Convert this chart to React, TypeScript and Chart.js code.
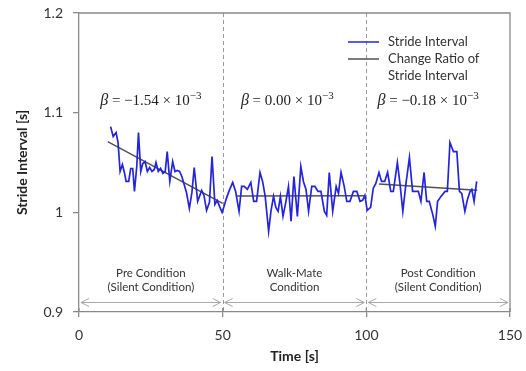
import React, { useEffect, useRef } from "react";
import { Chart, registerables } from "chart.js";

Chart.register(...registerables);

// ---- Data ----
const strideTime = [
  11.0, 11.9, 12.9, 13.6, 14.3, 15.1, 15.8, 16.4, 17.3, 18.0, 18.7, 19.3, 20.1, 20.7, 21.5, 22.2, 23.0, 23.8,
  24.6, 25.4, 26.2, 26.8, 27.6, 28.4, 29.2, 30.0, 30.7, 31.6, 32.6, 33.4, 34.2, 35.0, 35.8, 36.6, 37.4, 38.4,
  39.3, 40.1, 41.3, 42.7, 43.5, 44.4, 45.4, 46.3, 47.3, 48.1, 48.9, 49.8,
  50.5, 51.3, 52.3, 53.5, 54.5, 55.7, 56.6, 57.5, 58.6, 59.8, 60.8, 61.8, 63.0, 63.9, 64.8, 66.0, 66.8, 67.7,
  68.5, 69.3, 70.1, 71.0, 71.9, 72.9, 73.8, 74.8, 76.0, 77.2, 78.1, 79.0, 79.9, 81.0, 82.1, 83.2, 84.2, 85.4,
  86.2, 87.1, 88.3, 89.5, 90.3, 91.2, 92.3, 93.2, 94.3, 95.5, 96.7, 97.8, 98.7, 99.5,
  100.3, 101.5, 102.4, 103.3, 104.4, 105.3, 106.4, 107.4, 108.5, 109.4, 110.8, 111.7, 112.7, 113.8, 115.0,
  116.1, 117.3, 118.1, 119.0, 120.1, 121.0, 121.9, 123.1, 124.0, 124.8, 126.0, 127.4, 128.2, 129.1, 130.3,
  131.5, 132.4, 133.2, 134.3, 135.2, 136.1, 136.7, 137.5, 138.4,
];
const strideValue = [
  1.086, 1.076, 1.080, 1.070, 1.041, 1.048, 1.040, 1.031, 1.031, 1.044, 1.044, 1.021, 1.046, 1.080, 1.041, 1.049, 1.051, 1.041,
  1.045, 1.041, 1.043, 1.050, 1.041, 1.044, 1.039, 1.041, 1.061, 1.031, 1.051, 1.041, 1.042, 1.041, 1.036, 1.028, 1.020, 1.004,
  1.020, 1.045, 1.011, 1.022, 1.017, 1.002, 1.010, 1.056, 1.008, 1.012, 1.006, 1.000,
  1.006, 1.014, 1.022, 1.030, 1.021, 1.001, 1.026, 1.026, 1.023, 1.030, 1.011, 1.011, 1.040, 1.031, 1.016, 0.981, 1.001, 1.016,
  1.005, 1.001, 1.016, 0.996, 1.009, 1.026, 0.991, 1.036, 0.996, 1.046, 1.031, 1.023, 1.001, 1.026, 1.026, 1.021, 1.021, 1.001,
  0.997, 1.040, 1.001, 1.026, 1.019, 1.040, 1.026, 1.011, 1.011, 1.021, 1.021, 1.011, 1.012, 1.017,
  1.002, 1.005, 1.024, 1.029, 1.040, 1.031, 1.031, 1.040, 1.021, 1.021, 1.050, 1.029, 1.001, 1.029, 1.055,
  1.021, 1.021, 1.021, 1.011, 1.040, 1.011, 1.011, 0.998, 0.986, 1.011, 1.016, 1.021, 1.021, 1.070, 1.061,
  1.061, 1.021, 1.019, 1.001, 1.013, 1.021, 1.023, 1.011, 1.031,
];

// Regression (change ratio) segments: [start, end]
const preRegTime = [10, 50];
const preRegValue = [1.071, 1.009];
const walkRegTime = [54.6, 99.5];
const walkRegValue = [1.0165, 1.0167];
const postRegTime = [104.4, 138.6];
const postRegValue = [1.0285, 1.0222];

const betaLabels = ["−1.54", "0.00", "−0.18"];
const conditionLine1 = ["Pre Condition", "Walk-Mate", "Post Condition"];
const conditionLine2 = ["(Silent Condition)", "Condition", "(Silent Condition)"];
const phaseBounds = [0, 50, 100, 150];
const xTickValues = [0, 50, 100, 150];
const yTickValues = [0.9, 1.0, 1.1, 1.2];
const yTickLabels = ["0.9", "1", "1.1", "1.2"];

const FONT = "Lato";
const SERIF = '"Liberation Serif"';

const overlayPlugin = {
  id: "overlay",
  beforeDatasetsDraw(chart: any) {
    const { ctx, chartArea, scales } = chart;
    const xs = scales.x;
    const ys = scales.y;
    ctx.save();
    // dashed phase separators
    ctx.strokeStyle = "#9a9a9a";
    ctx.lineWidth = 1;
    ctx.setLineDash([4, 3]);
    [phaseBounds[1], phaseBounds[2]].forEach((b) => {
      const px = Math.round(xs.getPixelForValue(b)) + 0.5;
      ctx.beginPath();
      ctx.moveTo(px, chartArea.top);
      ctx.lineTo(px, chartArea.bottom);
      ctx.stroke();
    });
    ctx.setLineDash([]);
    // frame top/right
    ctx.strokeStyle = "#8a8a8a";
    ctx.lineWidth = 1.3;
    ctx.beginPath();
    ctx.moveTo(chartArea.left, chartArea.top);
    ctx.lineTo(chartArea.right, chartArea.top);
    ctx.lineTo(chartArea.right, chartArea.bottom);
    ctx.stroke();
    // upward part of x ticks
    xTickValues.forEach((v) => {
      const px = xs.getPixelForValue(v);
      ctx.beginPath();
      ctx.moveTo(px, chartArea.bottom - 4);
      ctx.lineTo(px, chartArea.bottom);
      ctx.stroke();
    });
    // arrows
    const ay = Math.round(ys.getPixelForValue(0.91)) + 0.5;
    ctx.strokeStyle = "#a8a8a8";
    ctx.lineWidth = 1;
    for (let i = 0; i < 3; i++) {
      const x0 = xs.getPixelForValue(phaseBounds[i]) + 2;
      const x1 = xs.getPixelForValue(phaseBounds[i + 1]) - 2;
      ctx.beginPath();
      ctx.moveTo(x0, ay);
      ctx.lineTo(x1, ay);
      ctx.moveTo(x0 + 8, ay - 4);
      ctx.lineTo(x0, ay);
      ctx.lineTo(x0 + 8, ay + 4);
      ctx.moveTo(x1 - 8, ay - 4);
      ctx.lineTo(x1, ay);
      ctx.lineTo(x1 - 8, ay + 4);
      ctx.stroke();
      const cx = (x0 + x1) / 2;
      ctx.fillStyle = "#333";
      ctx.font = `11.5px ${FONT}`;
      ctx.textAlign = "center";
      ctx.textBaseline = "middle";
      ctx.fillText(conditionLine1[i], cx, ay - 29);
      ctx.fillText(conditionLine2[i], cx, ay - 15.5);
    }
    ctx.restore();
  },
  afterDatasetsDraw(chart: any) {
    const { ctx, scales } = chart;
    const xs = scales.x;
    const ys = scales.y;
    ctx.save();
    // beta annotations
    const centers = [25, 72.5, 121.5];
    const by = ys.getPixelForValue(1.112);
    betaLabels.forEach((lab, i) => {
      const parts = [
        { t: "β", f: `italic 16px ${SERIF}`, dy: 0 },
        { t: ` = ${lab} × 10`, f: `15px ${SERIF}`, dy: 0 },
        { t: "−3", f: `11px ${SERIF}`, dy: -5 },
      ];
      let total = 0;
      parts.forEach((p) => {
        ctx.font = p.f;
        total += ctx.measureText(p.t).width;
      });
      let x = xs.getPixelForValue(centers[i]) - total / 2;
      ctx.fillStyle = "#222";
      ctx.textAlign = "left";
      ctx.textBaseline = "middle";
      parts.forEach((p) => {
        ctx.font = p.f;
        ctx.fillText(p.t, x, by + p.dy);
        x += ctx.measureText(p.t).width;
      });
    });
    // legend
    ctx.lineWidth = 1.5;
    ctx.strokeStyle = "#2424dc";
    ctx.beginPath();
    ctx.moveTo(348, 42);
    ctx.lineTo(379, 42);
    ctx.stroke();
    ctx.strokeStyle = "#505050";
    ctx.beginPath();
    ctx.moveTo(348, 59);
    ctx.lineTo(379, 59);
    ctx.stroke();
    ctx.fillStyle = "#333";
    ctx.font = `13px ${FONT}`;
    ctx.textAlign = "left";
    ctx.textBaseline = "middle";
    ctx.fillText("Stride Interval", 388, 42);
    ctx.fillText("Change Ratio of", 388, 59);
    ctx.fillText("Stride Interval", 388, 76);
    ctx.restore();
  },
};

const zeroPad = (s: any) => {
  s.paddingLeft = 0;
  s.paddingRight = 0;
  s.paddingTop = 0;
  s.paddingBottom = 0;
};

export default function App() {
  const ref = useRef<HTMLCanvasElement | null>(null);
  useEffect(() => {
    if (!ref.current) return;
    Chart.defaults.font.family = FONT;
    const seg = (t: number[], v: number[]) => t.map((x, i) => ({ x, y: v[i] }));
    const regData = [
      ...seg(preRegTime, preRegValue),
      { x: 52, y: null },
      ...seg(walkRegTime, walkRegValue),
      { x: 102, y: null },
      ...seg(postRegTime, postRegValue),
    ];
    const chart = new Chart(ref.current, {
      type: "line",
      data: {
        datasets: [
          {
            label: "Stride Interval",
            data: seg(strideTime, strideValue),
            borderColor: "#2424dc",
            borderWidth: 1.7,
            pointRadius: 0,
            tension: 0,
          },
          {
            label: "Change Ratio of Stride Interval",
            data: regData as any,
            borderColor: "#505050",
            borderWidth: 1.5,
            pointRadius: 0,
            spanGaps: false,
          },
        ],
      },
      options: {
        animation: false,
        responsive: false,
        layout: { padding: { left: 0, right: 16, top: 13, bottom: 0 } },
        plugins: { legend: { display: false }, tooltip: { enabled: false } },
        scales: {
          x: {
            type: "linear",
            min: 0,
            max: 150,
            afterBuildTicks: (s: any) => {
              s.ticks = xTickValues.map((v) => ({ value: v }));
            },
            afterFit: (s: any) => {
              s.height = 59;
              zeroPad(s);
            },
            ticks: { color: "#333", font: { size: 14 }, padding: 10, maxRotation: 0 },
            grid: { drawOnChartArea: false, drawTicks: true, tickLength: 5, color: "#8a8a8a", lineWidth: 1.3 },
            border: { display: true, color: "#8a8a8a", width: 1.3 },
            title: {
              display: true,
              text: "Time [s]",
              color: "#222",
              font: { size: 14, weight: "bold" },
              padding: { top: 0, bottom: 6 },
            },
          },
          y: {
            type: "linear",
            min: 0.9,
            max: 1.2,
            afterBuildTicks: (s: any) => {
              s.ticks = yTickValues.map((v) => ({ value: v }));
            },
            afterFit: (s: any) => {
              s.width = 79;
              zeroPad(s);
            },
            ticks: {
              color: "#333",
              font: { size: 14 },
              padding: 10,
              callback: (v: any) => {
                const i = yTickValues.findIndex((t) => Math.abs(t - v) < 1e-6);
                return i >= 0 ? yTickLabels[i] : "";
              },
            },
            grid: { drawOnChartArea: false, drawTicks: true, tickLength: 6, color: "#8a8a8a", lineWidth: 1.3 },
            border: { display: true, color: "#8a8a8a", width: 1.3 },
            title: {
              display: true,
              text: "Stride Interval [s]",
              color: "#222",
              font: { size: 14, weight: "bold" },
              padding: { top: 14, bottom: 0 },
            },
          },
        },
      } as any,
      plugins: [overlayPlugin],
    });
    return () => chart.destroy();
  }, []);
  return (
    <div style={{ position: "fixed", left: 0, top: 0, width: 526, height: 371, background: "#fff" }}>
      <canvas ref={ref} width={526} height={371} />
    </div>
  );
}
